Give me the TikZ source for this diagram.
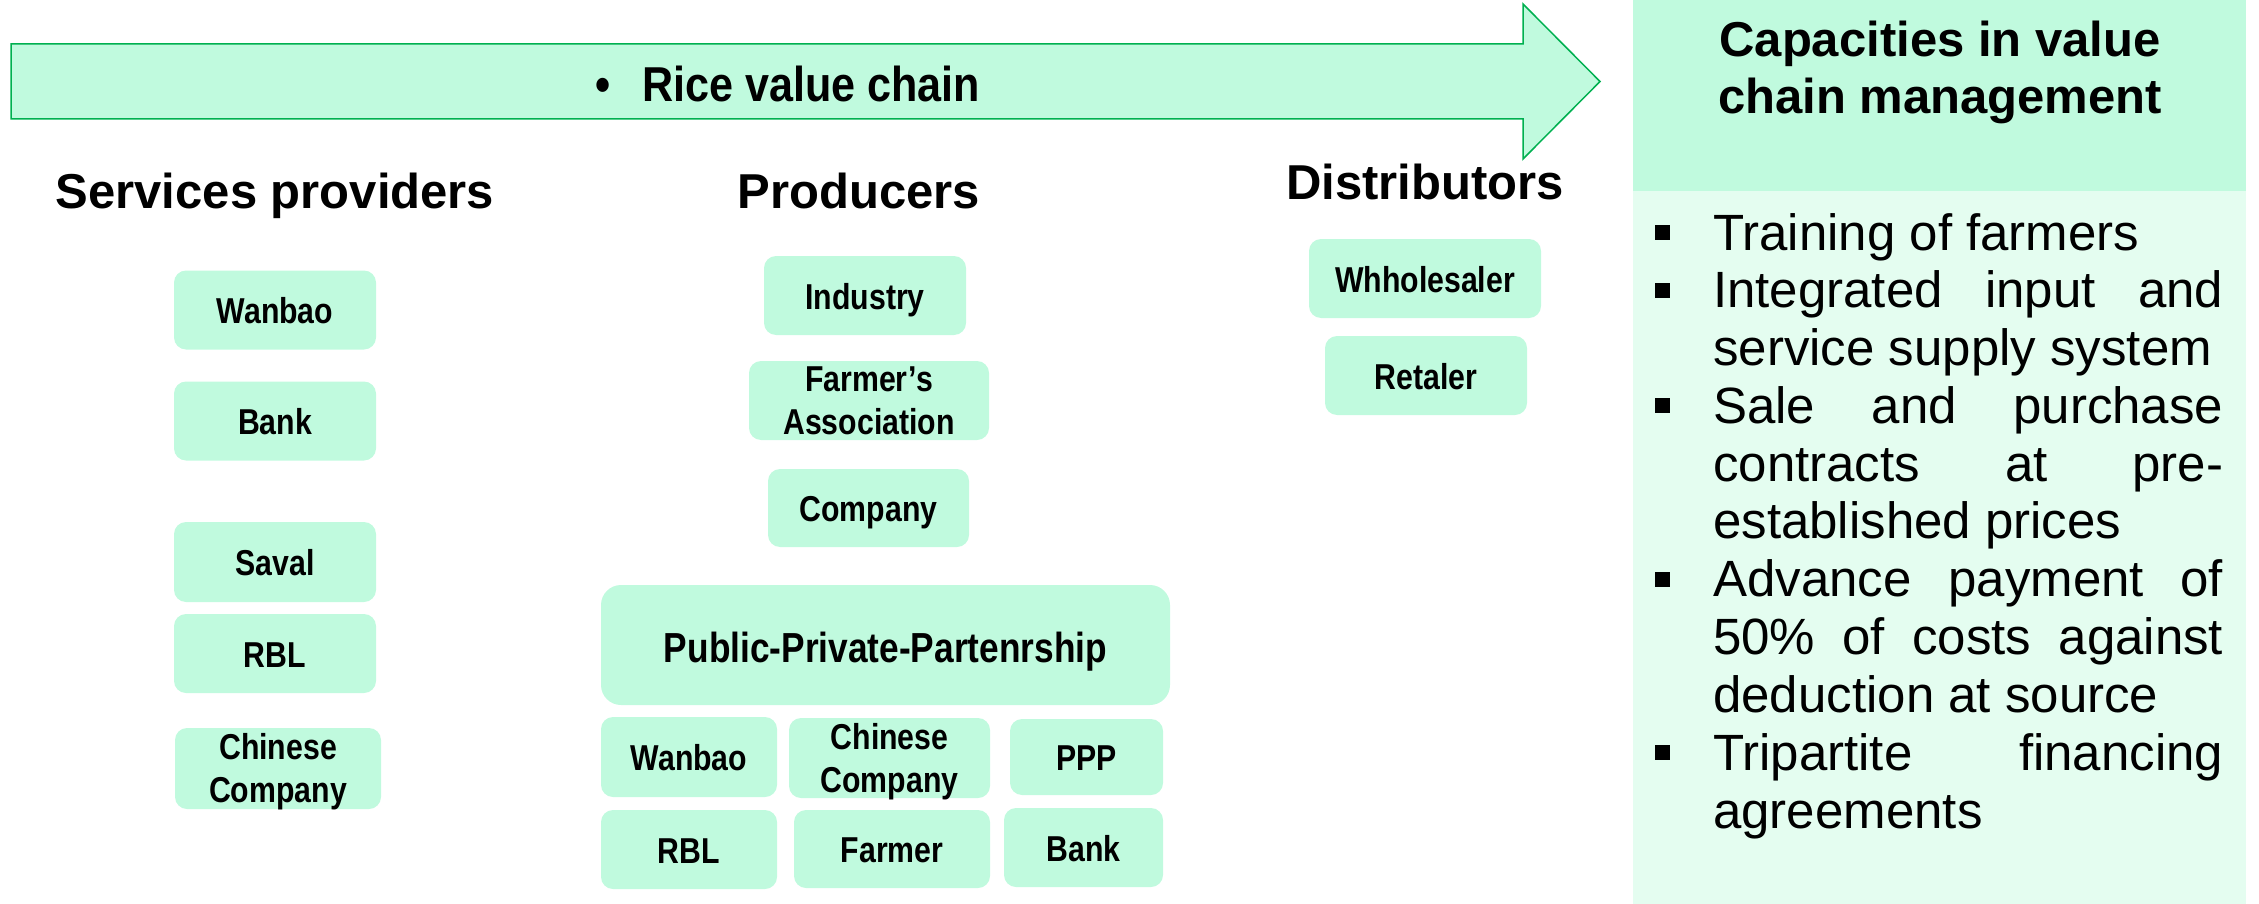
\documentclass[tikz,border=0pt]{standalone}
\usepackage{fontspec}
\setmainfont{Liberation Sans}
\newfontfamily\condA[FakeStretch=0.84]{Liberation Sans}
\newfontfamily\condB[FakeStretch=0.88]{Liberation Sans}
\definecolor{boxc}{RGB}{192,250,222}
\definecolor{panelc}{RGB}{228,253,240}
\definecolor{arrc}{RGB}{0,176,80}
\newcommand\oneL[1]{\raisebox{-13.5pt}[0pt][0pt]{#1}}
\newcommand\twoL[2]{\raisebox{-34pt}[0pt][0pt]{\begin{tabular}[b]{@{}c@{}}#1\\#2\end{tabular}}}
\newcommand\sqb{\leavevmode\llap{\rule[10pt]{15pt}{15pt}\hspace{43pt}}}
\tikzset{
  cbox/.style={fill=boxc, rounded corners=12pt, inner sep=0pt,
    font=\condA\bfseries\fontsize{36}{43}\selectfont},
  heading/.style={font=\bfseries\fontsize{49}{57}\selectfont, anchor=base, inner sep=0pt},
}
\begin{document}
\begin{tikzpicture}[x=1pt,y=-1pt]
\useasboundingbox (0,0) rectangle (2259,904);
% chain arrow
\draw[draw=arrc, fill=boxc, line width=1.5pt]
  (11,44) -- (1523,44) -- (1523,4) -- (1600,81.5) -- (1523,159) -- (1523,119) -- (11,119) -- cycle;
\node[font=\condB\bfseries\fontsize{49}{57}\selectfont, anchor=base, inner sep=0pt] (rvcb) at (603,102) {•};
\node[font=\condB\bfseries\fontsize{49}{57}\selectfont, anchor=base west, inner sep=0pt] (rvc) at (642,102) {Rice value chain};
% headings
\node[heading] (hsp) at (275,208) {Services providers};
\node[heading] (hpr) at (859,208) {Producers};
\node[heading] (hdi) at (1425,200) {Distributors};
% services providers
\node[cbox, minimum width=202pt, minimum height=79pt] (sWan) at (275,310) {\oneL{Wanbao}};
\node[cbox, minimum width=202pt, minimum height=79pt] (sBank) at (275,421) {\oneL{Bank}};
\node[cbox, minimum width=202pt, minimum height=80pt] (sSav) at (275,562) {\oneL{Saval}};
\node[cbox, minimum width=202pt, minimum height=79pt] (sRBL) at (275,653.5) {\oneL{RBL}};
\node[cbox, minimum width=206pt, minimum height=81pt] (sChi) at (278,768.5) {\twoL{Chinese}{Company}};
% producers
\node[cbox, minimum width=202pt, minimum height=79pt] (pInd) at (865,295.5) {\oneL{Industry}};
\node[cbox, minimum width=240pt, minimum height=79pt] (pFA) at (869,400.5) {\twoL{Farmer’s}{Association}};
\node[cbox, minimum width=201pt, minimum height=78pt] (pCom) at (868.5,508) {\oneL{Company}};
\node[cbox, rounded corners=20pt, minimum width=569pt, minimum height=120pt,
  font=\condA\bfseries\fontsize{42}{50}\selectfont] (pPPP) at (885.5,645)
  {\raisebox{-17pt}[0pt][0pt]{Public-Private-Partenrship}};
\node[cbox, minimum width=176pt, minimum height=80pt] (pWan) at (689,757) {\oneL{Wanbao}};
\node[cbox, minimum width=201pt, minimum height=80pt] (pChi) at (889.5,758) {\twoL{Chinese}{Company}};
\node[cbox, minimum width=153pt, minimum height=76pt] (pPPPs) at (1086.5,757) {\oneL{PPP}};
\node[cbox, minimum width=176pt, minimum height=79pt] (pRBL) at (689,849.5) {\oneL{RBL}};
\node[cbox, minimum width=196pt, minimum height=78pt] (pFar) at (892,849) {\oneL{Farmer}};
\node[cbox, minimum width=159pt, minimum height=79pt] (pBank) at (1083.5,847.5) {\oneL{Bank}};
% distributors
\node[cbox, minimum width=232pt, minimum height=79pt] (dWho) at (1425,278.5) {\oneL{Whholesaler}};
\node[cbox, minimum width=202pt, minimum height=79pt] (dRet) at (1426,375.5) {\oneL{Retaler}};
% capacities panel
\fill[boxc] (1633,0) rectangle (2246,191);
\fill[panelc] (1633,191) rectangle (2246,904);
\node[inner sep=0pt, font=\bfseries\fontsize{49}{57}\selectfont] (hcap) at (1940,57)
  {\raisebox{0pt}[0pt][0pt]{\begin{tabular}[t]{@{}c@{}}Capacities in value\\chain management\end{tabular}}};
\node[inner sep=0pt, anchor=west] (list) at (1713,250)
  {\raisebox{0pt}[0pt][0pt]{\parbox[t]{510pt}{\fontsize{51}{57.8}\selectfont
   \parindent0pt\parskip0pt\tolerance10000\hyphenpenalty10000\hbadness10000
   \sqb Training of farmers\par
   \sqb Integrated input and\linebreak service supply system\par
   \sqb Sale and purchase\linebreak contracts at pre-\linebreak established prices\par
   \sqb Advance payment of\linebreak 50\% of costs against\linebreak deduction at source\par
   \sqb Tripartite financing\linebreak agreements\par}}};
\end{tikzpicture}
\end{document}
